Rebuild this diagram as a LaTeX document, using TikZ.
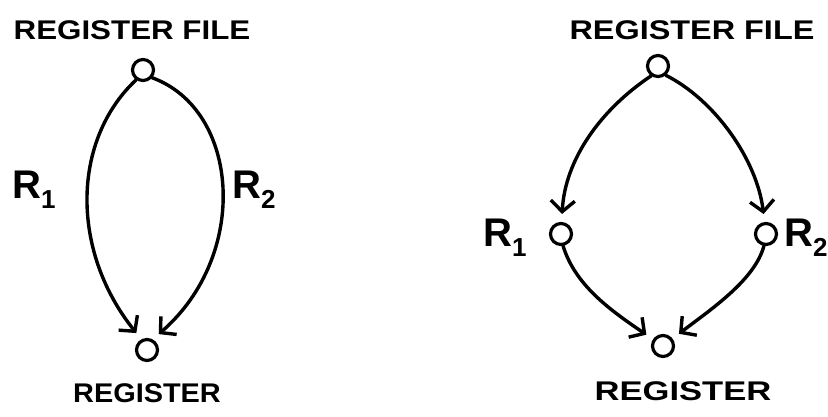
\documentclass[tikz,border=0pt]{standalone}
\usepackage{fontspec}
\setmainfont{Liberation Sans}
\usetikzlibrary{arrows.meta}
\tikzset{
  x=1pt, y=-1pt,
  vertex/.style={circle, draw, line width=3.2pt, fill=white, minimum size=21pt, inner sep=0pt},
  edge/.style={line width=3.4pt, line cap=round, -{Straight Barb[length=11pt,width=24pt,line width=3.4pt]}, shorten >=8pt},
  title/.style={inner sep=0pt, font=\bfseries\fontsize{27}{27}\selectfont},
  rlab/.style={inner sep=0pt, font=\bfseries\fontsize{40}{40}\selectfont}
}
\newcommand{\rsub}[1]{R\raisebox{-10pt}{\fontsize{26}{26}\selectfont #1}}
\begin{document}
\begin{tikzpicture}
\useasboundingbox (0,0) rectangle (828,416);
% left diagram
\node[title] (lf) at (132,30) {\scalebox{1.16}[1]{REGISTER FILE}};
\node[vertex] (t1) at (143,70) {};
\node[vertex] (b1) at (147,350) {};
\node[title] (lr) at (147,393) {\scalebox{1.07}[1]{REGISTER}};
\node[rlab] (l1) at (34,190) {\rsub{1}};
\node[rlab] (l2) at (254,190) {\rsub{2}};
\draw[edge] (t1.235) .. controls (72,140) and (70,250) .. (b1.118);
\draw[edge] (t1.-40) .. controls (240,110) and (250,255) .. (b1.62);
% right diagram
\node[title] (rf) at (692,30) {\scalebox{1.2}[1]{REGISTER FILE}};
\node[vertex] (t2) at (658,66) {};
\node[vertex] (r1) at (561,234) {};
\node[vertex] (r2) at (766,234) {};
\node[vertex] (b2) at (663,346) {};
\node[title] (rr) at (683,391) {\scalebox{1.28}[1]{REGISTER}};
\node[rlab] (m1) at (505,238) {\rsub{1}};
\node[rlab] (m2) at (806,238) {\rsub{2}};
\draw[edge] (t2.235) .. controls (600,110) and (565,160) .. (r1);
\draw[edge] (t2.-50) .. controls (715,100) and (757,160) .. (r2);
\draw[edge] (r1.-80) .. controls (575,285) and (610,310) .. (b2);
\draw[edge] (r2.-100) .. controls (755,280) and (710,310) .. (b2);
\end{tikzpicture}
\end{document}
